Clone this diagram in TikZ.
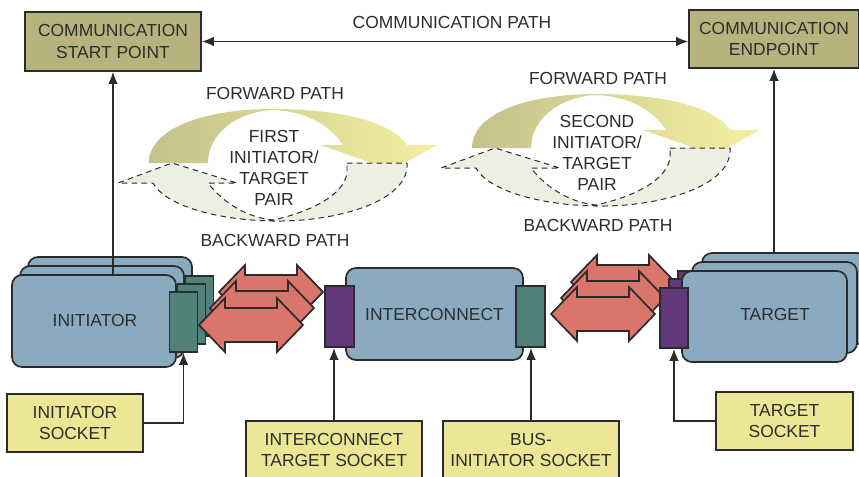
\documentclass[tikz,border=0pt]{standalone}
\usepackage{fontspec}
\setmainfont{Liberation Sans}
\usetikzlibrary{arrows.meta}

\definecolor{olivebox}{RGB}{184,179,126}
\definecolor{sockyel}{RGB}{236,231,148}
\definecolor{blkblue}{RGB}{138,171,191}
\definecolor{sockteal}{RGB}{81,129,120}
\definecolor{sockpurp}{RGB}{97,57,122}
\definecolor{arrred}{RGB}{217,117,107}
\definecolor{fwdL}{RGB}{196,193,139}
\definecolor{fwdR}{RGB}{244,240,160}
\definecolor{bwdfill}{RGB}{238,238,226}
\definecolor{edge}{RGB}{43,43,43}
\definecolor{txt}{RGB}{45,45,45}

\tikzset{
  box/.style={draw=edge, line width=1.2pt, align=center, text=txt, inner sep=0pt},
  endbox/.style={box, fill=olivebox},
  sockbox/.style={box, fill=sockyel, minimum height=1.45cm},
  blk/.style={box, fill=blkblue, rounded corners=0.25cm, minimum width=4.1cm, minimum height=2.3cm},
  tealsock/.style={box, fill=sockteal, minimum width=0.7cm, minimum height=1.5cm},
  purpsock/.style={box, fill=sockpurp, minimum width=0.7cm, minimum height=1.5cm},
  conn/.style={draw=edge, line width=1pt, ->},
  lbl/.style={text=txt, align=center},
  fwd/.style={left color=fwdL, right color=fwdR},
  bwd/.style={fill=bwdfill, draw=edge, line width=0.7pt, dash pattern=on 4pt off 3pt},
  pics/dblarrow/.style={code={
    \draw[fill=arrred, draw=edge, line width=1.2pt, line join=miter]
      (0,0) -- (26,-27) -- (26,-17) -- (78,-17) -- (78,-27) -- (104,0)
      -- (78,27) -- (78,17) -- (26,17) -- (26,27) -- cycle;}}
}

\begin{document}
\begin{tikzpicture}[x=0.025cm, y=-0.025cm, font=\fontsize{12.4}{15}\selectfont,
    >={Latex[length=3mm,width=2.4mm]}]
  \useasboundingbox (0,0) rectangle (859,476);

  % communication path
  \node[endbox, minimum width=4.4cm, minimum height=1.475cm] (start) at (113,41.5) {COMMUNICATION\\START POINT};
  \node[endbox, minimum width=4.25cm, minimum height=1.45cm] (end) at (774,39) {COMMUNICATION\\ENDPOINT};
  \draw[conn, <->] (start.east) -- (start.east -| end.west);
  \node[lbl] (cpath) at (452,22) {COMMUNICATION PATH};

  % forward / backward paths of the two pairs
  \foreach \n/\dx/\dy/\first in {1/0/0/FIRST, 2/323/15/SECOND}{
    \begin{scope}[shift={(\dx,-\dy)}]
      \shade[fwd] (149,163) .. controls (149,128) and (205,109) .. (273,109)
        .. controls (340,109) and (392,122) .. (407,145)
        -- (437,145) -- (392,170) -- (320,145) -- (343,145)
        .. controls (330,125) and (305,111) .. (273,110)
        .. controls (235,112) and (208,135) .. (208,163) -- cycle;
      \draw[bwd] (347,163) -- (407,163)
        .. controls (410,200) and (340,222) .. (273,221)
        .. controls (215,220) and (165,205) .. (153,183)
        -- (118,183) -- (172,163) -- (237,183) -- (208,183)
        .. controls (225,205) and (250,218) .. (273,220)
        .. controls (310,212) and (345,195) .. (347,172) -- cycle;
      \node[lbl] (fwdlbl\n) at (275,93) {FORWARD PATH};
      \node[lbl] (pairlbl\n) at (274,168) {\first\\INITIATOR/\\TARGET\\PAIR};
      \node[lbl] (bwdlbl\n) at (275,240) {BACKWARD PATH};
    \end{scope}
  }

  % initiator
  \foreach \i/\dx/\dy/\sy in {3/16/18/16, 2/8/9/8, 1/0/0/0}{
    \node[blk] (init\i) at (94+\dx,321-\dy) {};
    \node[tealsock] (isoc\i) at (183.5+\dx,322-\sy) {};
  }
  \node[lbl] (initlbl) at (95,320) {INITIATOR};
  \foreach \dx/\dy in {20/33, 11/17, 0/0}
    \pic at (199+\dx,325-\dy) {dblarrow};

  % interconnect
  \node[blk, minimum width=4.425cm] (ic) at (434.5,314) {INTERCONNECT};
  \node[purpsock, minimum width=0.725cm, minimum height=1.525cm] (icsL) at (339.5,316.5) {};
  \node[tealsock, minimum width=0.725cm, minimum height=1.525cm] (icsR) at (530.5,316.5) {};

  % target
  \foreach \dx/\dy in {20/32, 10/16, 0/0}
    \pic at (551+\dx,314-\dy) {dblarrow};
  \foreach \i/\dx/\dy/\sx/\sy in {3/20/18/18/17, 2/10/9/9/9, 1/0/0/0/0}{
    \node[blk, minimum width=4.125cm, minimum height=2.275cm] (tgt\i) at (764.5+\dx,316.5-\dy) {};
    \node[purpsock] (tsoc\i) at (674+\sx,318-\sy) {};
  }
  \node[lbl] (tgtlbl) at (775,314) {TARGET};

  \draw[conn] (init1.north -| start.south) -- (start.south);
  \draw[conn] (tgt3.north -| end.south) -- (end.south);

  % socket labels
  \node[sockbox, minimum width=3.4cm] (isocklbl) at (75,423) {INITIATOR\\SOCKET};
  \node[sockbox, minimum width=4.4cm] (itsocklbl) at (334,450) {INTERCONNECT\\TARGET SOCKET};
  \node[sockbox, minimum width=4.4cm] (bisocklbl) at (531,450) {BUS-\\INITIATOR SOCKET};
  \node[sockbox, minimum width=3.425cm] (tsocklbl) at (784.5,421) {TARGET\\SOCKET};

  \draw[conn] (isocklbl.east) -| (isoc1.south);
  \draw[conn] (itsocklbl.north) -- (itsocklbl.north |- icsL.south);
  \draw[conn] (bisocklbl.north) -- (bisocklbl.north |- icsR.south);
  \draw[conn] (tsocklbl.west) -| (tsoc1.south);
\end{tikzpicture}
\end{document}
